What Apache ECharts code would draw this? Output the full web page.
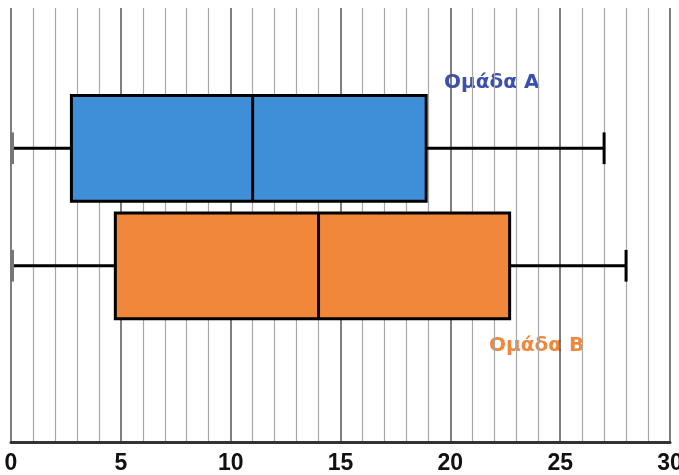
<!DOCTYPE html>
<html><head><meta charset="utf-8">
<script src="https://cdn.jsdelivr.net/npm/echarts@6/dist/echarts.min.js"></script>
<style>html,body{margin:0;padding:0;background:#fff}#c{width:679px;height:475px}</style>
</head><body><div id="c"></div>
<script>
const groups = ['Ομάδα A', 'Ομάδα B'];
const mins = [0, 0];
const q1s = [2.75, 4.75];
const medians = [11, 14];
const q3s = [18.9, 22.7];
const maxs = [27, 28];
const boxColors = ['#3f8fd8', '#f0873a'];
const labelColors = ['#3b4fae', '#f0873a'];
const xMin = 0, xMax = 30, xInterval = 5;

const chart = echarts.init(document.getElementById('c'));
const data = groups.map((g, i) => [i, mins[i], q1s[i], medians[i], q3s[i], maxs[i]]);

function renderItem(params, api) {
  const idx = api.value(0);
  const y = api.coord([0, idx])[1];
  const band = api.size([0, 1])[1];
  const bh = band * 0.9, ch = band * 0.27;
  const px = v => api.coord([v, idx])[0];
  const a = px(api.value(1)), b = px(api.value(2)), m = px(api.value(3)), c = px(api.value(4)), d = px(api.value(5));
  const blk = {stroke: '#000', lineWidth: 3};
  return {type: 'group', children: [
    {type: 'line', shape: {x1: a, y1: y, x2: b, y2: y}, style: blk},
    {type: 'line', shape: {x1: c, y1: y, x2: d, y2: y}, style: blk},
    {type: 'line', shape: {x1: a + 1, y1: y - ch / 2, x2: a + 1, y2: y + ch / 2}, style: {stroke: '#777', lineWidth: 4}},
    {type: 'line', shape: {x1: d, y1: y - ch / 2, x2: d, y2: y + ch / 2}, style: blk},
    {type: 'rect', shape: {x: b, y: y - bh / 2, width: c - b, height: bh}, style: {fill: boxColors[idx], stroke: '#000', lineWidth: 3}},
    {type: 'line', shape: {x1: m, y1: y - bh / 2, x2: m, y2: y + bh / 2}, style: blk}
  ]};
}

chart.setOption({
  animation: false,
  backgroundColor: '#fff',
  grid: [
    {left: 11, right: 9, top: 8, bottom: 33, outerBoundsMode: 'none', containLabel: false},
    {left: 11, right: 9, top: 89.5, height: 235, outerBoundsMode: 'none', containLabel: false}
  ],
  xAxis: [
    {gridIndex: 0, type: 'value', min: xMin, max: xMax, interval: xInterval,
     axisLine: {show: true, lineStyle: {color: '#333', width: 3}},
     axisTick: {show: false},
     axisLabel: {color: '#111', fontSize: 23, fontWeight: 'bold', fontFamily: 'Liberation Sans Narrow, Liberation Sans, Arial', margin: 10},
     splitLine: {show: true, lineStyle: {color: '#555', width: 1.5}},
     minorTick: {show: false, splitNumber: 5},
     minorSplitLine: {show: true, lineStyle: {color: '#a8a8a8', width: 1.2}}},
    {gridIndex: 1, type: 'value', min: xMin, max: xMax, show: false}
  ],
  yAxis: [
    {gridIndex: 0, type: 'value', show: false},
    {gridIndex: 1, type: 'category', data: groups, inverse: true, show: false}
  ],
  series: [{
    type: 'custom', xAxisIndex: 1, yAxisIndex: 1,
    renderItem: renderItem,
    encode: {x: [1, 2, 3, 4, 5], y: 0},
    data: data
  }],
  graphic: [
    {type: 'text', left: 444, top: 73, style: {text: groups[0], font: 'bold 20px "DejaVu Sans"', fill: labelColors[0]}},
    {type: 'text', left: 489, top: 336, style: {text: groups[1], font: 'bold 20px "DejaVu Sans"', fill: labelColors[1]}}
  ]
});
</script></body></html>
